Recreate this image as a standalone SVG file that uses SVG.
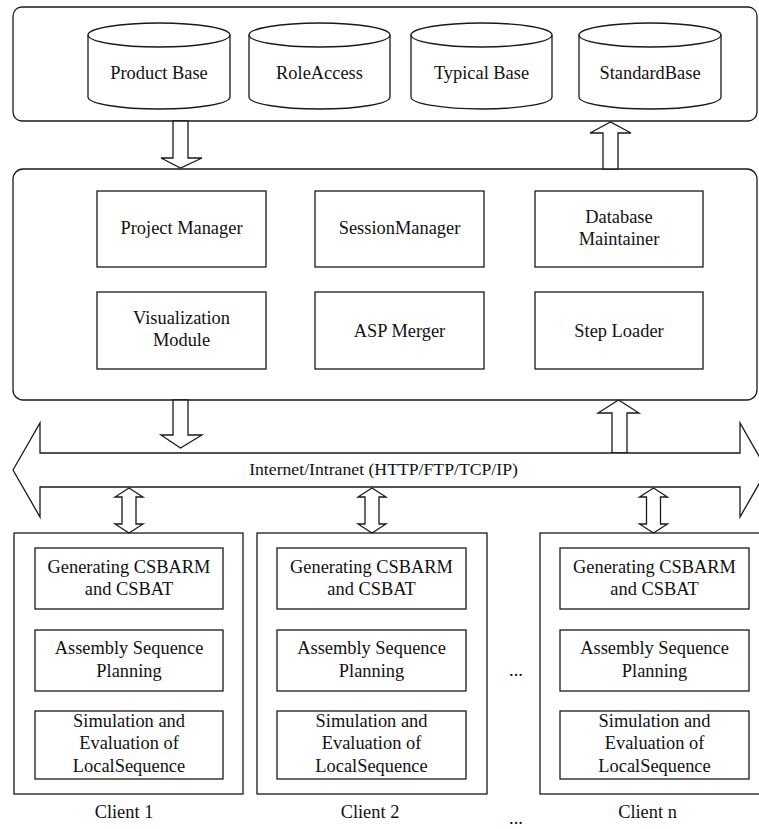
<svg xmlns="http://www.w3.org/2000/svg" width="759" height="829" viewBox="0 0 759 829">
<style>
.ln{fill:#fff;stroke:#1a1a1a;stroke-width:1.3}
.bx{fill:none;stroke:#1a1a1a;stroke-width:1.3}
text{font-family:"Liberation Serif","Times New Roman",serif;font-size:18.4px;fill:#111;text-anchor:middle}
</style>
<rect width="759" height="829" fill="#fff"/>
<g id="database-panel">
<rect class="bx" x="13" y="7" width="744" height="114" rx="9"/>
</g>
<g id="product-base">
<ellipse class="bx" cx="159" cy="35" rx="71" ry="12"/>
<path class="bx" d="M88,35 L88,97 A71,12 0 0 0 230,97 L230,35"/>
<text x="159" y="79">Product Base</text>
</g>
<g id="role-access">
<ellipse class="bx" cx="319.5" cy="35" rx="70.5" ry="12"/>
<path class="bx" d="M249,35 L249,97 A70.5,12 0 0 0 390,97 L390,35"/>
<text x="319.5" y="79">RoleAccess</text>
</g>
<g id="typical-base">
<ellipse class="bx" cx="481.5" cy="35" rx="70.5" ry="12"/>
<path class="bx" d="M411,35 L411,97 A70.5,12 0 0 0 552,97 L552,35"/>
<text x="481.5" y="79">Typical Base</text>
</g>
<g id="standard-base">
<ellipse class="bx" cx="650" cy="35" rx="71" ry="12"/>
<path class="bx" d="M579,35 L579,97 A71,12 0 0 0 721,97 L721,35"/>
<text x="650" y="79">StandardBase</text>
</g>
<g id="server-panel">
<rect class="bx" x="13" y="169" width="744" height="231" rx="10"/>
</g>
<g id="project-manager">
<rect class="bx" x="97" y="191" width="169" height="76"/>
<text x="181.5" y="234">Project Manager</text>
</g>
<g id="session-manager">
<rect class="bx" x="315" y="191" width="169" height="76"/>
<text x="399.5" y="234">SessionManager</text>
</g>
<g id="database-maintainer">
<rect class="bx" x="535" y="191" width="168" height="76"/>
<text x="619" y="223">Database</text>
<text x="619" y="245">Maintainer</text>
</g>
<g id="visualization-module">
<rect class="bx" x="97" y="292" width="169" height="77"/>
<text x="181.5" y="324">Visualization</text>
<text x="181.5" y="346">Module</text>
</g>
<g id="asp-merger">
<rect class="bx" x="315" y="292" width="169" height="77"/>
<text x="399.5" y="337">ASP Merger</text>
</g>
<g id="step-loader">
<rect class="bx" x="535" y="292" width="168" height="77"/>
<text x="619" y="337">Step Loader</text>
</g>
<g id="connectors">
<polygon class="ln" points="173,121 188,121 188,158 202,158 180.5,168 161,158 173,158"/>
<polygon class="ln" points="603,169 618,169 618,133 631,133 610.5,122 590,133 603,133"/>
<polygon class="ln" points="173,400 188,400 188,435 202,435 180.5,448 161,435 173,435"/>
<polygon class="ln" points="612,453 627,453 627,413 639,413 618.5,400 598,413 612,413"/>
<polygon class="ln" points="129,488 143,497 136,497 136,524 143,524 129,533 115,524 122,524 122,497 115,497"/>
<polygon class="ln" points="372,488 386,497 379,497 379,524 386,524 372,533 358,524 365,524 365,497 358,497"/>
<polygon class="ln" points="653.5,488 667.5,497 660.5,497 660.5,524 667.5,524 653.5,533 639.5,524 646.5,524 646.5,497 639.5,497"/>
</g>
<g id="network">
<polygon class="ln" points="13,470 40,423 40,453 740,453 740,423 767,470 740,517 740,487 40,487 40,517"/>
<text x="383.5" y="475" style="font-size:17.7px">Internet/Intranet (HTTP/FTP/TCP/IP)</text>
</g>
<g id="client-1">
<rect class="bx" x="14" y="533" width="229" height="261"/>
<rect class="bx" x="35" y="548" width="188" height="61"/>
<text x="129" y="573">Generating CSBARM</text>
<text x="129" y="595">and CSBAT</text>
<rect class="bx" x="35" y="630" width="188" height="61"/>
<text x="129" y="654">Assembly Sequence</text>
<text x="129" y="677">Planning</text>
<rect class="bx" x="35" y="711" width="188" height="68"/>
<text x="129" y="727">Simulation and</text>
<text x="129" y="749">Evaluation of</text>
<text x="129" y="772">LocalSequence</text>
<text x="124" y="818">Client 1</text>
</g>
<g id="client-2">
<rect class="bx" x="257" y="533" width="230" height="261"/>
<rect class="bx" x="277" y="548" width="189" height="61"/>
<text x="371.5" y="573">Generating CSBARM</text>
<text x="371.5" y="595">and CSBAT</text>
<rect class="bx" x="277" y="630" width="189" height="61"/>
<text x="371.5" y="654">Assembly Sequence</text>
<text x="371.5" y="677">Planning</text>
<rect class="bx" x="277" y="711" width="189" height="68"/>
<text x="371.5" y="727">Simulation and</text>
<text x="371.5" y="749">Evaluation of</text>
<text x="371.5" y="772">LocalSequence</text>
<text x="370" y="818">Client 2</text>
</g>
<g id="client-n">
<rect class="bx" x="540" y="533" width="230" height="261"/>
<rect class="bx" x="560" y="548" width="189" height="61"/>
<text x="654.5" y="573">Generating CSBARM</text>
<text x="654.5" y="595">and CSBAT</text>
<rect class="bx" x="560" y="630" width="189" height="61"/>
<text x="654.5" y="654">Assembly Sequence</text>
<text x="654.5" y="677">Planning</text>
<rect class="bx" x="560" y="711" width="189" height="68"/>
<text x="654.5" y="727">Simulation and</text>
<text x="654.5" y="749">Evaluation of</text>
<text x="654.5" y="772">LocalSequence</text>
<text x="647.5" y="818">Client n</text>
</g>
<g id="ellipses">
<text x="516" y="676">...</text>
<text x="516" y="824">...</text>
</g>
</svg>
